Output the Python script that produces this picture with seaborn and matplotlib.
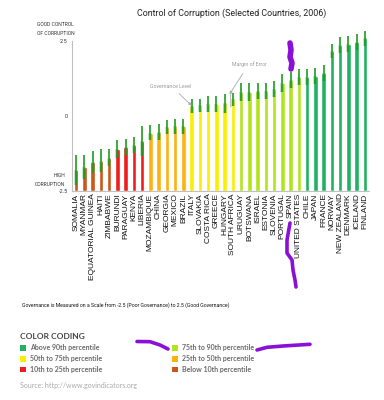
import matplotlib
matplotlib.use('Agg')
import matplotlib.pyplot as plt
import seaborn as sns
import pandas as pd
from matplotlib.patches import Rectangle
from matplotlib.lines import Line2D

# Control of Corruption 2006 (WGI)
countries = ['SOMALIA', 'MYANMAR', 'EQUATORIAL GUINEA', 'HAITI', 'ZIMBABWE',
             'BURUNDI', 'PARAGUAY', 'KENYA', 'LIBERIA',
             'MOZAMBIQUE', 'CHINA', 'GEORGIA', 'MEXICO', 'BRAZIL',
             'ITALY', 'SLOVAKIA', 'COSTA RICA', 'GREECE', 'HUNGARY', 'SOUTH AFRICA',
             'URUGUAY', 'BOTSWANA', 'ISRAEL', 'ESTONIA', 'SLOVENIA', 'PORTUGAL',
             'SPAIN', 'UNITED STATES',
             'CHILE', 'JAPAN', 'FRANCE', 'NORWAY', 'NEW ZEALAND', 'DENMARK',
             'ICELAND', 'FINLAND']
scores = [-1.80, -1.71, -1.55, -1.49, -1.39,
          -1.09, -1.03, -0.97, -0.85,
          -0.56, -0.54, -0.37, -0.35, -0.35,
          0.33, 0.36, 0.39, 0.39, 0.42, 0.56,
          0.81, 0.81, 0.83, 0.85, 0.90, 1.09, 1.20, 1.31,
          1.31, 1.33, 1.44, 2.17, 2.37, 2.41, 2.48, 2.60]
margins = [0.50, 0.39, 0.37, 0.38, 0.28,
           0.30, 0.27, 0.27, 0.50,
           0.25, 0.26, 0.22, 0.26, 0.26,
           0.24, 0.22, 0.27, 0.27, 0.31, 0.22,
           0.30, 0.30, 0.26, 0.27, 0.27, 0.30, 0.26, 0.26,
           0.26, 0.26, 0.28, 0.24, 0.26, 0.26, 0.26, 0.25]
tiers = (['Below 10th percentile'] * 5 + ['10th to 25th percentile'] * 4
         + ['25th to 50th percentile'] * 5 + ['50th to 75th percentile'] * 6
         + ['75th to 90th percentile'] * 8 + ['Above 90th percentile'] * 8)

tier_colors = {'Above 90th percentile': '#20b262',
               '75th to 90th percentile': '#b2e41e',
               '50th to 75th percentile': '#f8f000',
               '25th to 50th percentile': '#ffb10f',
               '10th to 25th percentile': '#ee1c1c',
               'Below 10th percentile': '#c9561a'}
legend_order = ['Above 90th percentile', '50th to 75th percentile', '10th to 25th percentile',
                '75th to 90th percentile', '25th to 50th percentile', 'Below 10th percentile']

NARROW = 'Roboto'
W, H = 384, 400

df = pd.DataFrame({'country': countries, 'score': scores, 'margin': margins, 'tier': tiers})
df['height'] = df['score'] + 2.5  # bars rise from the -2.5 floor

sns.set_style('white')
fig = plt.figure(figsize=(3.84, 4.0), dpi=100)
ax = fig.add_axes([72 / W, 1 - 190.7 / H, 297 / W, 0.4035])

sns.barplot(data=df, x='country', y='height', hue='tier', palette=tier_colors,
            hue_order=list(tier_colors), dodge=False, width=0.55, saturation=1,
            legend=False, bottom=-2.5, ax=ax)

# margin of error: tinted band inside the bar, thin green line over the full range
x = range(len(df))
ax.vlines(x, df['score'] - df['margin'], df['score'], color='#3aa53a', lw=2.6, alpha=0.35)
ax.vlines(x, df['score'] - df['margin'], df['score'] + df['margin'], color='#1f9c1f', lw=1.2)

ax.set_xlim(-0.5, len(df) - 0.5)
ax.set_ylim(-2.5, 2.9)
ax.set_yticks([-2.5, 0, 2.5])
ax.set_yticklabels(['-2.5', '0', '2.5'])
ax.set_xlabel('')
ax.set_ylabel('')
ax.tick_params(axis='y', length=2, width=0.5, color='#aaaaaa', pad=1, labelsize=4, labelcolor='#333333')
ax.tick_params(axis='x', length=0, pad=2, labelsize=6, rotation=90, labelcolor='#111111')
for lab in ax.get_xticklabels():
    lab.set_family('Liberation Sans')
for lab in ax.get_yticklabels():
    lab.set_family(NARROW)
for s in ['top', 'right']:
    ax.spines[s].set_visible(False)
for s in ['left', 'bottom']:
    ax.spines[s].set_color('#c0c0c0')
    ax.spines[s].set_linewidth(0.8)
ax.spines['left'].set_bounds(-2.5, 2.5)

# annotations
ax.annotate('Governance Level', xy=(14, df['score'][14] + 0.02), xycoords='data',
            xytext=(171 / W, 1 - 86 / H), textcoords='figure fraction',
            ha='center', va='center', fontsize=3.8, family=NARROW, color='#999999',
            arrowprops=dict(arrowstyle='-|>', color='#aaaaaa', lw=0.6, mutation_scale=4,
                            shrinkA=2, shrinkB=0))
sa = df.iloc[19]
lo, hi = sa['score'] - sa['margin'], sa['score'] + sa['margin']
ax.plot([18.75, 18.6, 18.6, 18.75], [lo, lo, hi, hi], color='#aaaaaa', lw=0.5)
ax.annotate('Margin of Error', xy=(18.6, hi - 0.05), xycoords='data',
            xytext=(249 / W, 1 - 64 / H), textcoords='figure fraction',
            ha='center', va='center', fontsize=3.8, family=NARROW, color='#999999',
            arrowprops=dict(arrowstyle='-|>', color='#aaaaaa', lw=0.6, mutation_scale=4,
                            shrinkA=3, shrinkB=0))

# titles and side labels
fig.text(232 / W, 1 - 13 / H, 'Control of Corruption (Selected Countries, 2006)',
         ha='center', va='center', fontsize=6.4, family=NARROW, color='#222222')
fig.text(37 / W, 1 - 22 / H, 'GOOD CONTROL\nOF CORRUPTION', ha='left', va='top',
         fontsize=3.6, family=NARROW, color='#333333', linespacing=1.9)
fig.text(65 / W, 1 - 187 / H, 'HIGH\nCORRUPTION', ha='right', va='bottom', multialignment='right',
         fontsize=3.6, family=NARROW, color='#333333', linespacing=1.9)

fig.text(22 / W, 1 - 306 / H,
         'Governance is Measured on a Scale from -2.5 (Poor Governance) to 2.5 (Good Governance)',
         ha='left', va='center', fontsize=3.7, family=NARROW, color='#111111')

# colour coding key
fig.text(20 / W, 1 - 336.5 / H, 'COLOR CODING', ha='left', va='center', fontsize=6,
         family='Lato', weight='bold', color='#444444')
col_x = [20, 172]
row_y = [347.7, 359, 369.3]
for i, name in enumerate(legend_order):
    px, py = col_x[i // 3], row_y[i % 3]
    fig.add_artist(Rectangle((px / W, 1 - (py + 2.8) / H), 5.6 / W, 5.6 / H,
                             transform=fig.transFigure, facecolor=tier_colors[name],
                             edgecolor='none'))
    fig.text((px + 10) / W, 1 - py / H, name, ha='left', va='center', fontsize=5,
             family='Lato', weight='bold', color='#6a6a6a')

fig.text(20 / W, 1 - 385.7 / H, 'Source: http://www.govindicators.org', ha='left', va='center',
         fontsize=5, family='Lato', color='#aaaaaa')

# purple pen marks on the original
scribbles = [
    [(290, 43), (291, 50), (290, 57), (292, 63), (291, 69)],
    [(290, 223), (287, 240), (287, 253), (292, 260), (293, 270), (295, 280), (296, 287)],
    [(137, 341.5), (150, 341.7), (160, 345), (168, 349)],
    [(257, 350), (267, 347.3), (283, 346), (310, 344.3)],
]
for k, pts in enumerate(scribbles):
    fig.add_artist(Line2D([p[0] / W for p in pts], [1 - p[1] / H for p in pts],
                          transform=fig.transFigure, color='#8a10d8',
                          lw=4 if k == 0 else 2.6, solid_capstyle='round'))

fig.savefig('out.png', dpi=100)
